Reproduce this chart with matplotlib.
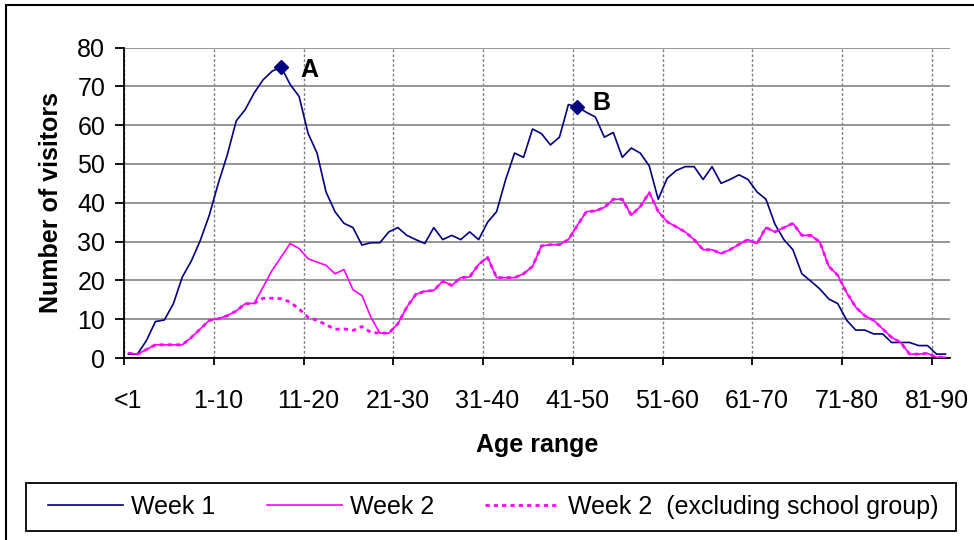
import numpy as np
import matplotlib.pyplot as plt
from matplotlib.patches import Rectangle

plt.rcParams['font.family'] = ['Liberation Sans', 'DejaVu Sans']

# category labels (every 10th point is labelled)
age_labels = ['<1', '1-10', '11-20', '21-30', '31-40', '41-50',
              '51-60', '61-70', '71-80', '81-90']

# visitors per point along the age axis
week1 = [1.0, 1.0, 4.5, 9.4, 9.8, 14.0, 20.9, 25.0, 30.3, 36.8,
         45.0, 52.3, 61.1, 64.0, 68.3, 71.7, 73.9, 75.0, 70.5, 67.4,
         57.9, 52.8, 42.8, 37.7, 34.7, 33.6, 29.1, 29.7, 29.7, 32.5,
         33.6, 31.6, 30.5, 29.5, 33.6, 30.5, 31.6, 30.5, 32.5, 30.5,
         35.0, 37.7, 45.9, 52.8, 51.7, 59.0, 57.8, 54.9, 56.9, 65.3,
         64.7, 63.3, 62.1, 56.9, 58.1, 51.7, 54.1, 52.8, 49.5, 40.9,
         46.3, 48.3, 49.3, 49.3, 46.0, 49.3, 45.0, 46.0, 47.2, 46.0,
         42.8, 40.9, 34.5, 30.5, 27.9, 21.7, 19.8, 17.8, 15.2, 14.0,
         9.7, 7.2, 7.2, 6.2, 6.2, 4.0, 4.0, 4.0, 3.2, 3.2,
         1.0, 1.0]

week2 = [1.2, 1.0, 2.2, 3.4, 3.4, 3.4, 3.4, 5.3, 7.5, 9.7,
         10.1, 10.9, 12.1, 14.0, 14.1, 18.3, 22.6, 26.0, 29.5, 28.2,
         25.6, 24.7, 23.9, 21.7, 22.8, 17.6, 16.1, 10.5, 6.4, 6.4,
         8.8, 13.1, 16.4, 17.2, 17.4, 19.8, 18.7, 20.7, 20.9, 24.1,
         25.9, 20.7, 20.7, 20.7, 21.7, 23.6, 28.9, 29.2, 29.2, 30.5,
         34.2, 37.7, 37.9, 38.8, 40.9, 40.9, 36.8, 39.0, 42.6, 37.8,
         35.1, 33.8, 32.5, 30.5, 27.9, 27.9, 26.9, 27.9, 29.3, 30.5,
         29.5, 33.6, 32.5, 33.6, 34.7, 31.6, 31.6, 29.9, 23.6, 21.3,
         16.8, 13.1, 10.9, 9.7, 7.5, 5.3, 4.0, 1.0, 1.0, 1.2,
         0.2, 0.2]

week2_excl = [1.2, 1.0, 2.2, 3.4, 3.4, 3.4, 3.4, 5.3, 7.5, 9.7,
              10.1, 10.9, 12.1, 14.0, 14.1, 15.4, 15.4, 15.3, 14.4, 12.6,
              10.5, 9.7, 8.6, 7.4, 7.5, 7.1, 8.1, 6.6, 6.4, 6.4,
              8.8, 13.1, 16.4, 17.2, 17.4, 19.8, 18.7, 20.7, 20.9, 24.1,
              25.9, 20.7, 20.7, 20.7, 21.7, 23.6, 28.9, 29.2, 29.2, 30.5,
              34.2, 37.7, 37.9, 38.8, 40.9, 40.9, 36.8, 39.0, 42.6, 37.8,
              35.1, 33.8, 32.5, 30.5, 27.9, 27.9, 26.9, 27.9, 29.3, 30.5,
              29.5, 33.6, 32.5, 33.6, 34.7, 31.6, 31.6, 29.9, 23.6, 21.3,
              16.8, 13.1, 10.9, 9.7, 7.5, 5.3, 4.0, 1.0, 1.0, 1.2,
              0.2, 0.2]

# highlighted peaks
peak_idx = [17, 50]
peak_names = ['A', 'B']

x = np.arange(len(week1))
W, H = 974, 540
fs = 18

fig = plt.figure(figsize=(W / 100, H / 100), dpi=100)
ax = fig.add_axes([124 / W, 1 - 358 / H, (950 - 124) / W, (358 - 47.5) / H])

l1, = ax.plot(x, week1, color='#000080', lw=1.2, zorder=3)
l2, = ax.plot(x, week2, color='#FF00FF', lw=1.2, zorder=3)
l3, = ax.plot(x, week2_excl, color='#FF00FF', lw=2.0,
              linestyle=(0, (1.5, 1.5)), zorder=2)

# A / B markers
px = [x[i] for i in peak_idx]
py = [week1[i] for i in peak_idx]
ax.plot(px, py, linestyle='none', marker='D', ms=7.5, color='#000080', zorder=4)
ax.annotate(peak_names[0], (px[0], py[0]), xytext=(14, -2), textcoords='offset points',
            fontsize=fs, fontweight='bold', va='center', ha='left')
ax.annotate(peak_names[1], (px[1], py[1]), xytext=(11, 3), textcoords='offset points',
            fontsize=fs, fontweight='bold', va='center', ha='left')

# axes
ax.set_xlim(-0.5, len(week1) - 0.5)
ax.set_ylim(0, 80)
ax.set_yticks(np.arange(0, 81, 10))
ax.set_xticks(np.arange(-0.5, 90, 10))
ax.set_xticklabels([])
ax.set_xticks(np.arange(0, 91, 10), minor=True)
ax.set_xticklabels(age_labels, minor=True)
ax.tick_params(axis='x', which='major', length=5, width=1.3, direction='out')
ax.tick_params(axis='x', which='minor', length=0, pad=22, labelsize=fs)
ax.tick_params(axis='y', length=6.5, width=1.3, pad=7, labelsize=fs)

for s in ['top', 'right']:
    ax.spines[s].set_visible(False)
for s in ['left', 'bottom']:
    ax.spines[s].set_linewidth(1.3)

ax.grid(axis='y', color='#8c8c8c', lw=1.3)
ax.grid(axis='x', which='major', color='#808080', lw=1.0, linestyle=(0, (2, 1.5)))
ax.set_axisbelow(True)

ax.set_xlabel('Age range', fontsize=fs, fontweight='bold', labelpad=15)
ax.set_ylabel('Number of visitors', fontsize=fs, fontweight='bold', labelpad=10)

# legend with a hand-placed frame
fig.legend([l1, l2, l3], ['Week 1', 'Week 2', 'Week 2  (excluding school group)'],
           ncol=3, frameon=False, fontsize=fs, loc='center',
           bbox_to_anchor=(493.5 / W, 1 - 507 / H),
           handlelength=3.0, handletextpad=0.32, columnspacing=2.05)
fig.add_artist(Rectangle((26 / W, 1 - 531 / H), (956 - 26) / W, 48 / H,
                         transform=fig.transFigure, fill=False,
                         edgecolor='black', lw=1.3))

# chart border (right and bottom edges fall outside the image)
fig.add_artist(Rectangle((6 / W, -0.05), 1.1, 1 - 5 / H + 0.05,
                         transform=fig.transFigure, fill=False,
                         edgecolor='black', lw=1.5))

fig.savefig('out.png', dpi=100)
